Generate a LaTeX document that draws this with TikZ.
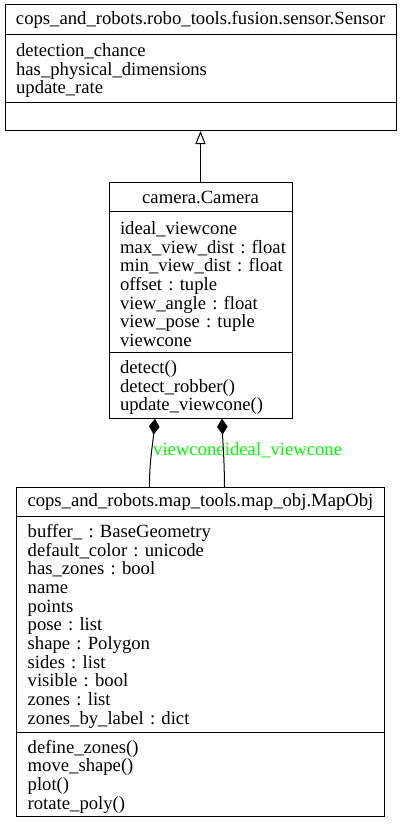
\documentclass[tikz,border=0pt]{standalone}
\usepackage{fontspec}
\setmainfont{Liberation Serif}
\usetikzlibrary{arrows.meta,positioning}
\definecolor{labelgreen}{RGB}{0,255,0}
\frenchspacing

\begin{document}
\begin{tikzpicture}[x=1pt, y=-1pt]
	\tikzstyle{classpart}=[draw=black, line width=1pt, rectangle, outer sep=0pt, inner xsep=11pt, inner ysep=0pt, font=\fontsize{18.67}{18.67}\selectfont]
	\tikzstyle{classtitle}=[classpart, align=center]
	\tikzstyle{classlist}=[classpart, align=left, execute at begin node={\rule{0pt}{16.7pt}}]

	\tikzstyle{inherit}=[line width=1pt, -{Triangle[open, length=13pt, width=10pt]}]
	\tikzstyle{compose}=[line width=1pt, {Diamond[length=16pt, width=10.5pt]}-]
	\tikzstyle{rolename}=[labelgreen, anchor=west, inner sep=1pt, font=\fontsize{18.67}{18.67}\selectfont]

	\useasboundingbox (0,0) rectangle (401,824);

	% Sensor
	\node[classtitle, anchor=north west, minimum width=391pt, minimum height=29.3pt] (sensor-title) at (5,5) {cops\_and\_robots.robo\_tools.fusion.sensor.Sensor};
	\node[classlist, below=0pt of sensor-title, minimum width=391pt, text width=369pt, minimum height=68.7pt] (sensor-attr) {detection\_chance\\ has\_physical\_dimensions\\ update\_rate};
	\node[classlist, below=0pt of sensor-attr, minimum width=391pt, text width=369pt, minimum height=28pt] (sensor-ops) {};

	% Camera
	\node[classtitle, anchor=north west, minimum width=183pt, minimum height=29pt] (camera-title) at (109,182.7) {camera.Camera};
	\node[classlist, below=0pt of camera-title, minimum width=183pt, text width=161pt, minimum height=141pt] (camera-attr) {ideal\_viewcone\\ \mbox{max\_view\_dist : float}\\ \mbox{min\_view\_dist : float}\\ offset : tuple\\ view\_angle : float\\ view\_pose : tuple\\ viewcone};
	\node[classlist, below=0pt of camera-attr, minimum width=183pt, text width=161pt, minimum height=66pt] (camera-ops) {detect()\\ detect\_robber()\\ update\_viewcone()};

	% MapObj
	\node[classtitle, anchor=north west, minimum width=367.5pt, minimum height=28.7pt] (mapobj-title) at (16.5,487.3) {cops\_and\_robots.map\_tools.map\_obj.MapObj};
	\node[classlist, below=0pt of mapobj-title, minimum width=367.5pt, text width=345.5pt, minimum height=216.7pt] (mapobj-attr) {buffer\_ : BaseGeometry\\ default\_color : unicode\\ has\_zones : bool\\ name\\ points\\ pose : list\\ shape : Polygon\\ sides : list\\ visible : bool\\ zones : list\\ zones\_by\_label : dict};
	\node[classlist, below=0pt of mapobj-attr, minimum width=367.5pt, text width=345.5pt, minimum height=84pt] (mapobj-ops) {define\_zones()\\ move\_shape()\\ plot()\\ rotate\_poly()};

	\draw[inherit] (camera-title.north) -- (camera-title.north |- sensor-ops.south);

	\draw[compose] ([xshift=-45.5pt] camera-ops.south) to[out=-95, in=90] node[rolename, pos=0.45] {viewcone} ([xshift=-51pt] mapobj-title.north);
	\draw[compose] ([xshift=21.5pt] camera-ops.south) to[out=-88, in=90] node[rolename, pos=0.45] {ideal\_viewcone} ([xshift=24pt] mapobj-title.north);
\end{tikzpicture}
\end{document}
